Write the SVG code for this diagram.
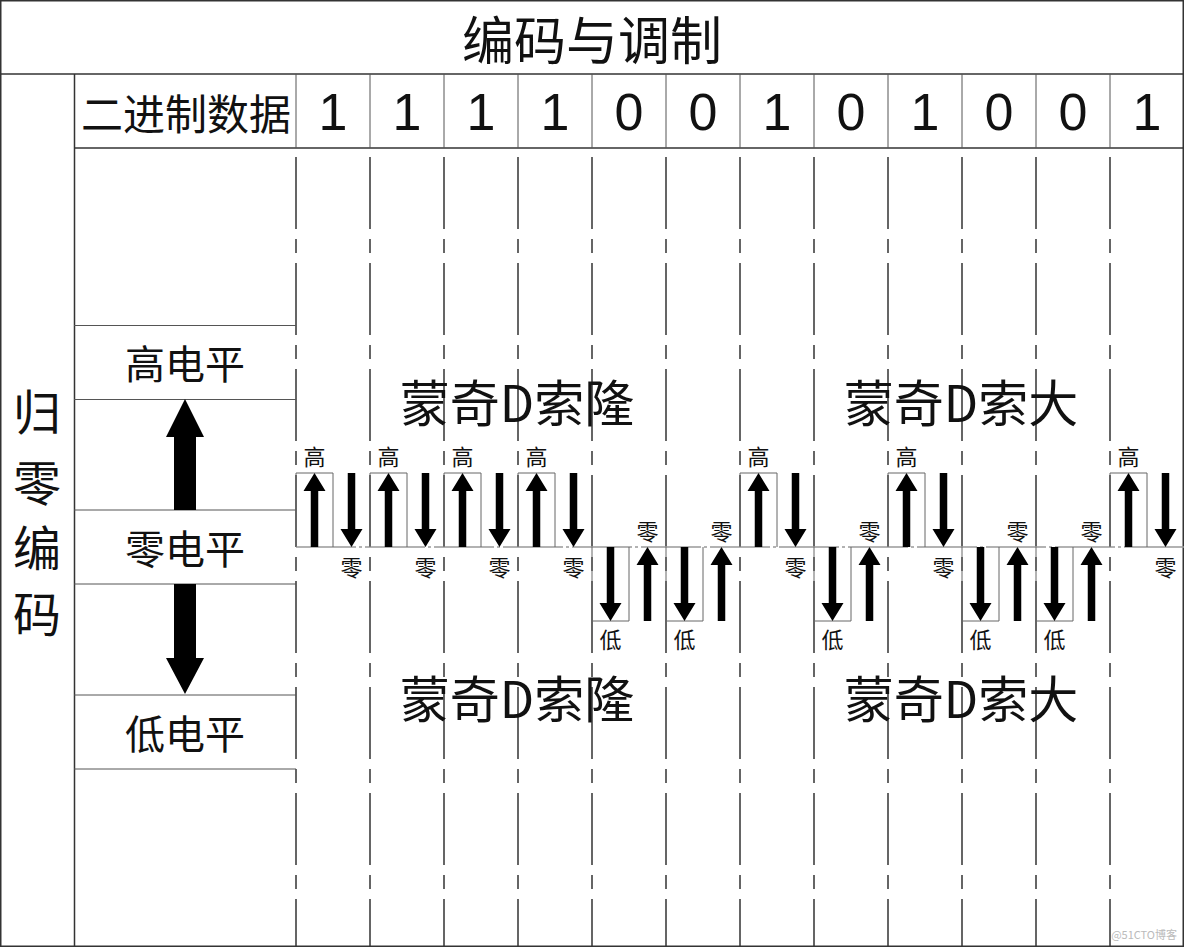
<svg xmlns="http://www.w3.org/2000/svg" xmlns:xlink="http://www.w3.org/1999/xlink" width="1184" height="947" viewBox="0 0 1184 947">
<style>
.cj{font-family:"Noto Sans CJK SC","Noto Sans",sans-serif;fill:#111;text-anchor:middle;dominant-baseline:central}
.dg{font-family:"Liberation Sans",Arial,sans-serif;font-size:52px;fill:#111;text-anchor:middle}
.grid{stroke:#333;stroke-width:1.5;fill:none}
.thin{stroke:#555;stroke-width:1;fill:none}
.dash{stroke:#333;stroke-width:1.5;stroke-dasharray:72 10 14 10}
.zero{stroke:#999;stroke-width:1.5;stroke-dasharray:60 3 3 3}
.box{stroke:#666;stroke-width:1;fill:none}
.arr{fill:#000}
.sm{font-size:22px}
</style>
<defs>
<path id="up" d="M0,0 L11,18 L3.75,18 L3.75,74 L-3.75,74 L-3.75,18 L-11,18 Z"/>
<path id="dn" d="M0,74 L11,56 L3.75,56 L3.75,0 L-3.75,0 L-3.75,56 L-11,56 Z"/>
</defs>
<rect x="0" y="0" width="1184" height="947" fill="#fff"/>
<g id="grid">
<rect class="grid" x="0.75" y="0.75" width="1182.5" height="945.5"/>
<line class="grid" x1="0" y1="74" x2="1184" y2="74"/>
<line class="grid" x1="74.5" y1="74" x2="74.5" y2="947"/>
<line class="grid" x1="74" y1="148" x2="1184" y2="148"/>
<g class="thin">
<line x1="296" y1="74" x2="296" y2="148"/><line x1="370" y1="74" x2="370" y2="148"/><line x1="444" y1="74" x2="444" y2="148"/><line x1="518" y1="74" x2="518" y2="148"/><line x1="592" y1="74" x2="592" y2="148"/><line x1="666" y1="74" x2="666" y2="148"/><line x1="740" y1="74" x2="740" y2="148"/><line x1="814" y1="74" x2="814" y2="148"/><line x1="888" y1="74" x2="888" y2="148"/><line x1="962" y1="74" x2="962" y2="148"/><line x1="1036" y1="74" x2="1036" y2="148"/><line x1="1110" y1="74" x2="1110" y2="148"/>
</g>
<g class="dash">
<line x1="296" y1="157" x2="296" y2="947"/><line x1="370" y1="157" x2="370" y2="947"/><line x1="444" y1="157" x2="444" y2="947"/><line x1="518" y1="157" x2="518" y2="947"/><line x1="592" y1="157" x2="592" y2="947"/><line x1="666" y1="157" x2="666" y2="947"/><line x1="740" y1="157" x2="740" y2="947"/><line x1="814" y1="157" x2="814" y2="947"/><line x1="888" y1="157" x2="888" y2="947"/><line x1="962" y1="157" x2="962" y2="947"/><line x1="1036" y1="157" x2="1036" y2="947"/><line x1="1110" y1="157" x2="1110" y2="947"/>
</g>
<g class="thin" stroke="#777">
<line x1="74" y1="325.5" x2="296" y2="325.5"/><line x1="74" y1="399.5" x2="296" y2="399.5"/><line x1="74" y1="510" x2="296" y2="510"/><line x1="74" y1="584" x2="296" y2="584"/><line x1="74" y1="695" x2="296" y2="695"/><line x1="74" y1="769" x2="296" y2="769"/>
</g>
</g>
<g id="title"><text class="cj" x="592" y="37" font-size="52">编码与调制</text></g>
<g id="sidelabel" class="cj" font-size="48">
<text x="37" y="409">归</text><text x="37" y="480">零</text><text x="37" y="545">编</text><text x="37" y="611">码</text>
</g>
<g id="header">
<text class="cj" x="186" y="111" font-size="42">二进制数据</text>
<g class="dg">
<text x="333" y="130">1</text><text x="407" y="130">1</text><text x="481" y="130">1</text><text x="555" y="130">1</text><text x="629" y="130">0</text><text x="703" y="130">0</text><text x="777" y="130">1</text><text x="851" y="130">0</text><text x="925" y="130">1</text><text x="999" y="130">0</text><text x="1073" y="130">0</text><text x="1147" y="130">1</text>
</g>
</g>
<g id="levels">
<text class="cj" x="185" y="362" font-size="40">高电平</text>
<text class="cj" x="185" y="547" font-size="40">零电平</text>
<text class="cj" x="185" y="732" font-size="40">低电平</text>
<path class="arr" d="M185,399 L204,437 L196,437 L196,510 L174,510 L174,437 L166,437 Z"/>
<path class="arr" d="M185,694 L204,658 L196,658 L196,584 L174,584 L174,658 L166,658 Z"/>
</g>
<g id="names" class="cj" font-size="50">
<text x="517" y="400">蒙奇D索隆</text>
<text x="961" y="400">蒙奇D索大</text>
<text x="517" y="696">蒙奇D索隆</text>
<text x="961" y="696">蒙奇D索大</text>
</g>
<g id="connectors">
<line class="zero" x1="296" y1="547" x2="1184" y2="547"/>
<g class="box">
<path d="M296,547 V473 H333 V547"/>
<path d="M370,547 V473 H407 V547"/>
<path d="M444,547 V473 H481 V547"/>
<path d="M518,547 V473 H555 V547"/>
<path d="M592,547 V621 H629 V547"/>
<path d="M666,547 V621 H703 V547"/>
<path d="M740,547 V473 H777 V547"/>
<path d="M814,547 V621 H851 V547"/>
<path d="M888,547 V473 H925 V547"/>
<path d="M962,547 V621 H999 V547"/>
<path d="M1036,547 V621 H1073 V547"/>
<path d="M1110,547 V473 H1147 V547"/>
</g>
<g class="arr">
<use xlink:href="#up" x="314.5" y="473"/><use xlink:href="#dn" x="351.5" y="473"/>
<use xlink:href="#up" x="388.5" y="473"/><use xlink:href="#dn" x="425.5" y="473"/>
<use xlink:href="#up" x="462.5" y="473"/><use xlink:href="#dn" x="499.5" y="473"/>
<use xlink:href="#up" x="536.5" y="473"/><use xlink:href="#dn" x="573.5" y="473"/>
<use xlink:href="#dn" x="610.5" y="547"/><use xlink:href="#up" x="647.5" y="547"/>
<use xlink:href="#dn" x="684.5" y="547"/><use xlink:href="#up" x="721.5" y="547"/>
<use xlink:href="#up" x="758.5" y="473"/><use xlink:href="#dn" x="795.5" y="473"/>
<use xlink:href="#dn" x="832.5" y="547"/><use xlink:href="#up" x="869.5" y="547"/>
<use xlink:href="#up" x="906.5" y="473"/><use xlink:href="#dn" x="943.5" y="473"/>
<use xlink:href="#dn" x="980.5" y="547"/><use xlink:href="#up" x="1017.5" y="547"/>
<use xlink:href="#dn" x="1054.5" y="547"/><use xlink:href="#up" x="1091.5" y="547"/>
<use xlink:href="#up" x="1128.5" y="473"/><use xlink:href="#dn" x="1165.5" y="473"/>
</g>
</g>
<g id="wavelabels" class="cj sm">
<text x="314.5" y="455">高</text><text x="351.5" y="566">零</text>
<text x="388.5" y="455">高</text><text x="425.5" y="566">零</text>
<text x="462.5" y="455">高</text><text x="499.5" y="566">零</text>
<text x="536.5" y="455">高</text><text x="573.5" y="566">零</text>
<text x="610.5" y="638">低</text><text x="647.5" y="530">零</text>
<text x="684.5" y="638">低</text><text x="721.5" y="530">零</text>
<text x="758.5" y="455">高</text><text x="795.5" y="566">零</text>
<text x="832.5" y="638">低</text><text x="869.5" y="530">零</text>
<text x="906.5" y="455">高</text><text x="943.5" y="566">零</text>
<text x="980.5" y="638">低</text><text x="1017.5" y="530">零</text>
<text x="1054.5" y="638">低</text><text x="1091.5" y="530">零</text>
<text x="1128.5" y="455">高</text><text x="1165.5" y="566">零</text>
</g>
<g id="watermark"><text x="1177" y="939" font-family="'Noto Sans CJK SC','Noto Sans',sans-serif" font-size="11" fill="#bbb" text-anchor="end">@51CTO博客</text></g>
</svg>
